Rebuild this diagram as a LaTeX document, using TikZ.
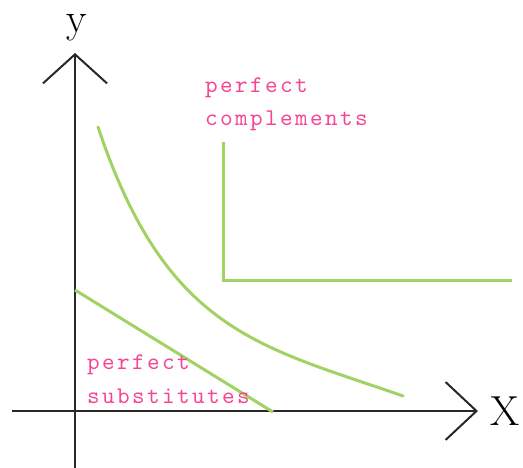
\documentclass[tikz,border=0pt]{standalone}
\usepackage{fontspec}
\usetikzlibrary{arrows.meta}
\newfontfamily\pinkfont{lmmono10-regular.otf}[LetterSpace=10]
\definecolor{curvegreen}{RGB}{160,210,100}
\definecolor{labelpink}{RGB}{245,70,150}
\definecolor{axisgray}{RGB}{40,40,40}
\begin{document}
\begin{tikzpicture}[x=1pt,y=-1pt,
  axis/.style={draw=axisgray,line width=2pt},
  curve/.style={draw=curvegreen,line width=3pt,line cap=round,line join=miter},
  pinklabel/.style={text=labelpink,font=\pinkfont\fontsize{24}{24}\selectfont,anchor=base west,inner sep=0pt},
  axislabel/.style={font=\fontsize{42}{42}\selectfont,anchor=base,inner sep=0pt}]
\useasboundingbox (0,0) rectangle (523,468);
% axes
\coordinate (ybot) at (75,468);
\coordinate (ytop) at (75,53);
\coordinate (xleft) at (12,411);
\coordinate (xright) at (478,411);
\draw[axis,-{Straight Barb[length=29pt,width=64pt,line width=2pt]}] (ybot) -- (ytop);
\draw[axis,-{Straight Barb[length=31pt,width=58pt,line width=2pt]}] (xleft) -- (xright);
\node[axislabel] (ylab) at (77,33) {y};
\node[axislabel] (xlab) at (505,425) {X};
% perfect substitutes
\coordinate (s1) at (75,290);
\coordinate (s2) at (273,412);
\draw[curve,line cap=butt] (s1) -- (s2);
% convex indifference curve
\coordinate (i1) at (98,127);
\coordinate (i2) at (403,396);
\draw[curve] (i1) .. controls (166.6,332.8) and (261.1,346.3) .. (i2);
% perfect complements
\coordinate (c1) at (223,142);
\coordinate (c2) at (223,281);
\coordinate (c3) at (512,281);
\draw[curve,line cap=butt] (c1) -- (c2) -- (c3);
% labels
\node[pinklabel] (pc1) at (205,93) {perfect};
\node[pinklabel] (pc2) at (205,126) {complements};
\node[pinklabel] (ps1) at (87,370) {perfect};
\node[pinklabel] (ps2) at (87,403) {substitutes};
\end{tikzpicture}
\end{document}
